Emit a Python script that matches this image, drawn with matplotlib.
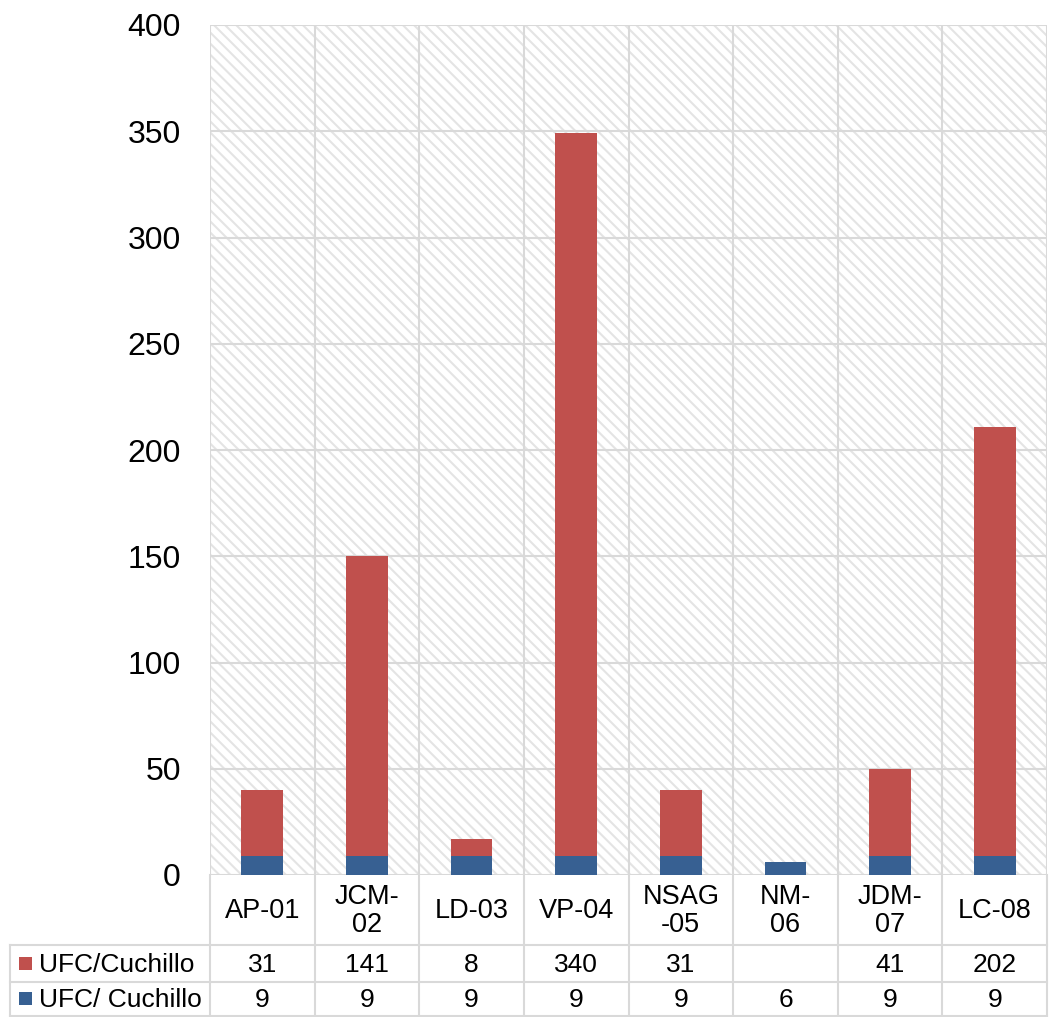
import matplotlib
matplotlib.use("Agg")
import matplotlib.pyplot as plt
import numpy as np
from matplotlib.patches import Rectangle
from matplotlib.lines import Line2D
import matplotlib.transforms as mtransforms

plt.rcParams['font.family'] = ['Liberation Sans', 'DejaVu Sans']
plt.rcParams['hatch.linewidth'] = 1.5
plt.rcParams['hatch.color'] = '#e4e4e4'

categories = ["AP-01", "JCM-\n02", "LD-03", "VP-04", "NSAG\n-05", "NM-\n06", "JDM-\n07", "LC-08"]
series_blue_name = "UFC/ Cuchillo"
series_red_name = "UFC/Cuchillo"
blue_values = [9, 9, 9, 9, 9, 6, 9, 9]
red_values = [31, 141, 8, 340, 31, None, 41, 202]
y_ticks = [0, 50, 100, 150, 200, 250, 300, 350, 400]

RED = '#C0504D'
BLUE = '#376092'
GRID = '#d9d9d9'

W, H = 1049, 1017
fig = plt.figure(figsize=(W / 100, H / 100), dpi=100)

def fx(px):
    return px / W

def fy(py):
    return 1 - py / H

ax_left, ax_right, ax_top, ax_bottom = 210, 1047, 25, 875
ax = fig.add_axes([fx(ax_left), fy(ax_bottom), fx(ax_right - ax_left), (ax_bottom - ax_top) / H])

# hatched background
bg = Rectangle((0, 0), 1, 1, transform=ax.transAxes, facecolor='white',
               edgecolor='#e4e4e4', hatch='\\\\\\', linewidth=0, zorder=0)
ax.add_patch(bg)

x = np.arange(len(categories))
red_plot = [v if v is not None else 0 for v in red_values]
ax.bar(x, blue_values, width=0.4, color=BLUE, zorder=3)
ax.bar(x, red_plot, width=0.4, bottom=blue_values, color=RED, zorder=3)

ax.set_xlim(-0.5, len(categories) - 0.5)
ax.set_ylim(0, 400)
ax.set_yticks(y_ticks)
ax.set_yticklabels([str(t) for t in y_ticks], fontsize=23)
ax.tick_params(axis='y', length=0, pad=21)
ax.set_xticks([])

# gridlines
for t in y_ticks:
    ax.axhline(t, color=GRID, lw=1.5, zorder=1)
for b in np.arange(-0.5, len(categories), 1.0):
    ax.axvline(b, color=GRID, lw=1.5, zorder=1)
for s in ax.spines.values():
    s.set_visible(False)

# data table below the plot
row_cat_bottom, row1_bottom, row2_bottom = 945, 982, 1016
table_left = 10
trans_xfig = mtransforms.blended_transform_factory(ax.transData, fig.transFigure)

def hline(py, x0, x1):
    fig.add_artist(Line2D([fx(x0), fx(x1)], [fy(py), fy(py)], color=GRID, lw=1.5))

def vline(px, y0, y1):
    fig.add_artist(Line2D([fx(px), fx(px)], [fy(y0), fy(y1)], color=GRID, lw=1.5))

hline(row_cat_bottom, table_left, ax_right)
hline(row1_bottom, table_left, ax_right)
hline(row2_bottom, table_left, ax_right)
vline(table_left, row_cat_bottom, row2_bottom)
cat_w = (ax_right - ax_left) / len(categories)
for i in range(len(categories) + 1):
    vline(ax_left + i * cat_w, ax_bottom, row2_bottom)

for i, c in enumerate(categories):
    ax.text(i, fy((ax_bottom + row_cat_bottom) / 2 + 1), c, transform=trans_xfig,
            ha='center', va='center', fontsize=19.5, linespacing=1.1)

rows = [(series_red_name, RED, red_values, (row_cat_bottom + row1_bottom) / 2),
        (series_blue_name, BLUE, blue_values, (row1_bottom + row2_bottom) / 2)]
for name, color, vals, ymid in rows:
    fig.add_artist(Rectangle((fx(19), fy(ymid + 6)), fx(13), 13 / H,
                             facecolor=color, edgecolor='none'))
    fig.text(fx(39), fy(ymid + 1), name, ha='left', va='center', fontsize=19)
    for i, v in enumerate(vals):
        if v is None:
            continue
        ax.text(i, fy(ymid + 1), str(v), transform=trans_xfig,
                ha='center', va='center', fontsize=19)

fig.savefig("out.png", dpi=100)
